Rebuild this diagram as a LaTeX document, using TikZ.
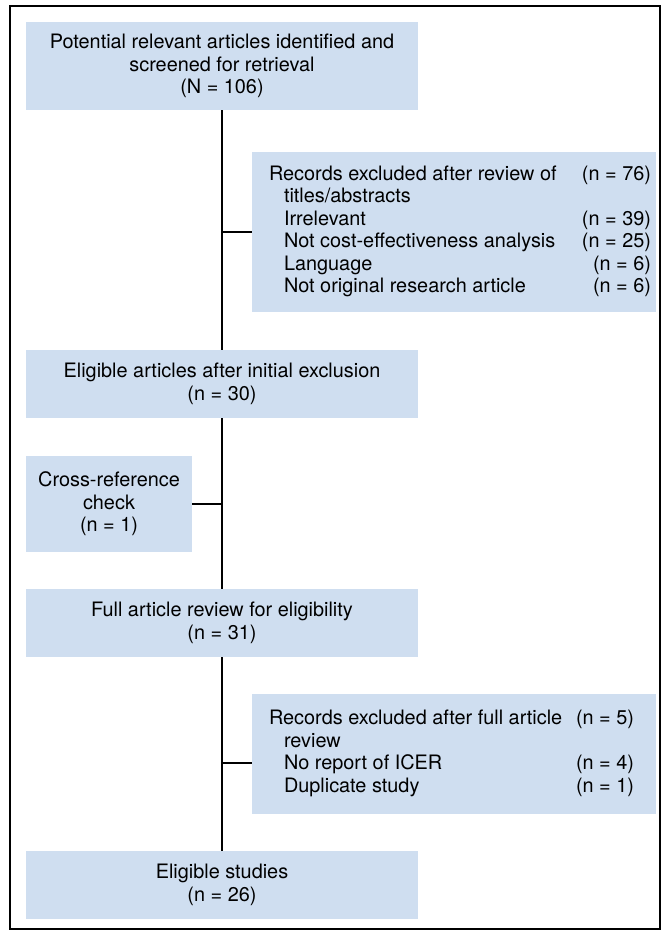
\documentclass[tikz,border=0pt]{standalone}
\usepackage{fontspec}
\setmainfont{TeX Gyre Heros}
\definecolor{kotak}{RGB}{207,222,240}
\begin{document}
\begin{tikzpicture}[x=0.75pt, y=-0.75pt,
    box/.style={fill=kotak, inner sep=0pt, minimum width=294pt, align=center,
        font=\fontsize{14.9}{16.8}\selectfont},
    excl/.style={box, minimum width=303pt},
    link/.style={line width=1.7pt}]
    % Batas gambar
    \useasboundingbox (0,0) rectangle (661,931);
    \draw[line width=1pt] (10,6) rectangle (660,929);

    % Kotak-kotak utama di kolom kiri
    \node[box, minimum height=66pt] (screen) at (222,66) {Potential relevant articles identified and\\ screened for retrieval\\ (N = 106)};
    \node[box, minimum height=51pt] (elig) at (222,384) {Eligible articles after initial exclusion\\ (n = 30)};
    \node[box, minimum width=124.5pt, minimum height=72pt] (xref) at (109,504) {Cross-reference\\ check\\ (n = 1)};
    \node[box, minimum height=51pt] (full) at (222,623) {Full article review for eligibility\\ (n = 31)};
    \node[box, minimum height=51pt] (incl) at (222,885) {Eligible studies\\ (n = 26)};

    % Kotak pengecualian di kanan
    \node[excl, minimum height=120pt] (excla) at (454,232) {\hspace*{12.75pt}\begin{tabular*}{286.5pt}{@{}l@{\extracolsep{\fill}}r@{}}
        Records excluded after review of & (n = 76)\\
        \hspace*{11.25pt}titles/abstracts & \\
        \hspace*{11.25pt}Irrelevant & (n = 39)\\
        \hspace*{11.25pt}Not cost-effectiveness analysis & (n = 25)\\
        \hspace*{11.25pt}Language & (n = 6)\\
        \hspace*{11.25pt}Not original research article & (n = 6)
    \end{tabular*}\hspace*{3.75pt}};
    \node[excl, minimum height=90pt] (exclb) at (454,754) {\hspace*{12.75pt}\begin{tabular*}{273.75pt}{@{}l@{\extracolsep{\fill}}r@{}}
        Records excluded after full article & (n = 5)\\
        \hspace*{11.25pt}review & \\
        \hspace*{11.25pt}No report of ICER & (n = 4)\\
        \hspace*{11.25pt}Duplicate study & (n = 1)
    \end{tabular*}\hspace*{16.5pt}};

    % Garis vertikal utama
    \draw[link] (screen) -- (elig);
    \draw[link] (elig) -- (full);
    \draw[link] (full) -- (incl);

    % Cabang ke samping
    \coordinate (ja) at (222,232);
    \coordinate (jb) at (222,504);
    \coordinate (jc) at (222,763);
    \draw[link] (ja) -- (ja -| excla.west);
    \draw[link] (xref.east) -- (jb);
    \draw[link] (jc) -- (jc -| exclb.west);
\end{tikzpicture}
\end{document}
